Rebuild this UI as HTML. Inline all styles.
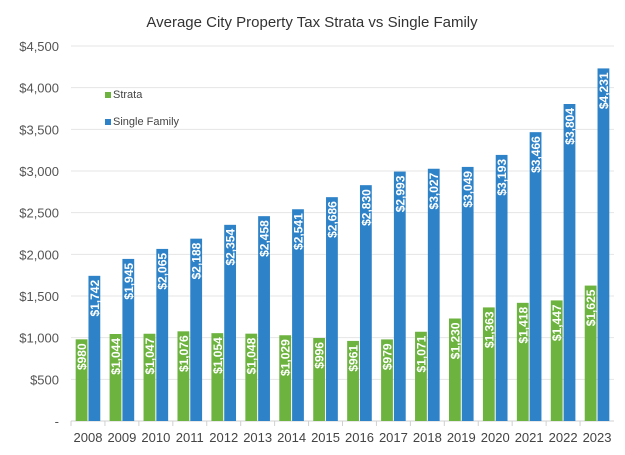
<!DOCTYPE html>
<html><head><meta charset="utf-8"><style>
body{margin:0;background:#fff;font-family:"Liberation Sans",Arial,sans-serif;}
</style></head><body>
<svg id="chart" width="625" height="450" xmlns="http://www.w3.org/2000/svg"></svg>
<script>
const years=["2008","2009","2010","2011","2012","2013","2014","2015","2016","2017","2018","2019","2020","2021","2022","2023"];
const strata=[980,1044,1047,1076,1054,1048,1029,996,961,979,1071,1230,1363,1418,1447,1625];
const single=[1742,1945,2065,2188,2354,2458,2541,2686,2830,2993,3027,3049,3193,3466,3804,4231];
const ticks=[0,500,1000,1500,2000,2500,3000,3500,4000,4500];
const NS="http://www.w3.org/2000/svg";
const svg=document.getElementById('chart');
const x0=71,x1=614,y0=421,y1=46,maxV=4500;
const cw=(x1-x0)/years.length;
const yS=v=>y0-(v/maxV)*(y0-y1);
function mk(t,a,txt){const e=document.createElementNS(NS,t);for(const k in a)e.setAttribute(k,a[k]);if(txt!==undefined)e.textContent=txt;svg.appendChild(e);return e;}
const fmt=v=>v===0?"-":"$"+v.toLocaleString('en-US');
let e=mk('text',{x:312,y:27,'text-anchor':'middle','font-size':15,fill:'#333'},'Average City Property Tax Strata vs Single Family');


ticks.forEach(t=>{
  const y=yS(t);
  let g=mk('line',{x1:x0,x2:x1,y1:y,y2:y,stroke:t===0?'#d0d0d0':'#e4e4e4','stroke-width':1});
  
  
  let l=mk('text',{x:59,y:y+5,'text-anchor':'end','font-size':13,fill:'#555'},fmt(t));
  
  
});
const bw=11.8;
years.forEach((yr,i)=>{
  const cx=x0+cw*i+cw/2;
  let tk=mk('line',{x1:x0+cw*i,x2:x0+cw*i,y1:y0,y2:y0+5,stroke:'#d0d0d0'});
  
  
  [[strata[i],'#6db33f',cx-bw-0.5,'strata'],[single[i],'#2e82c8',cx+0.5,'single-family']].forEach(([v,c,bx,n])=>{
    const y=yS(v);
    let r=mk('rect',{x:bx,y:y,width:bw,height:y0-y,fill:c});
    
    
    const lx=bx+bw/2+4.5, ly=y+4;
    let t=mk('text',{x:lx,y:ly,'text-anchor':'end','font-size':12,'font-weight':'bold',fill:'#fff',transform:`rotate(-90 ${lx} ${ly})`},fmt(v));
    
    
  });
  let xl=mk('text',{x:cx,y:442,'text-anchor':'middle','font-size':13,fill:'#444'},yr);
  
  
});
[['Strata','#6db33f',98],['Single Family','#2e82c8',125]].forEach(([n,c,y])=>{
  let s=mk('rect',{x:105,y:y-6,width:6,height:6,fill:c});
  
  
  let t=mk('text',{x:113,y:y,'font-size':11,fill:'#444'},n);
  
  
});
</script>
</body></html>
